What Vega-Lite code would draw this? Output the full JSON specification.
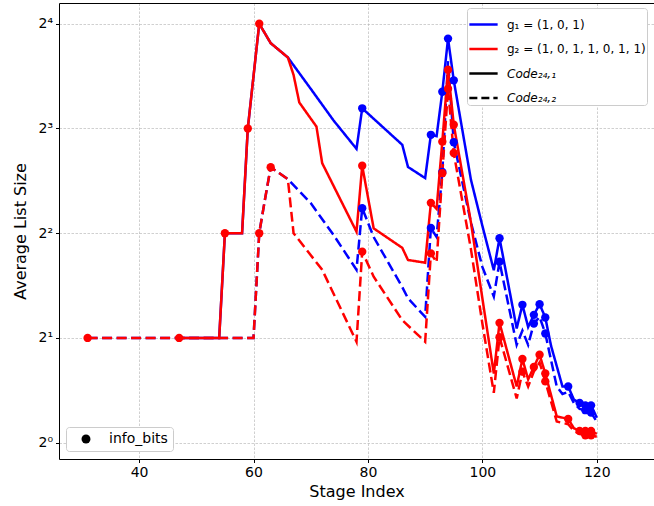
{
  "$schema": "https://vega.github.io/schema/vega-lite/v6.json",
  "width": 595,
  "height": 456,
  "autosize": {"type": "none"},
  "padding": {"left": 59, "top": 3, "right": 0, "bottom": 47},
  "background": "white",
  "config": {
    "view": {"stroke": null},
    "font": "DejaVu Sans",
    "axis": {"labelFont": "DejaVu Sans", "titleFont": "DejaVu Sans", "labelColor": "black", "titleColor": "black", "titleFontWeight": "normal", "domainColor": "black", "tickColor": "black"},
    "legend": {"labelFont": "DejaVu Sans", "labelColor": "black"}
  },
  "datasets": {
    "lines": [
      {"g":"g1","c":"c1","x":47,"y":2},{"g":"g1","c":"c1","x":54,"y":2},{"g":"g1","c":"c1","x":55,"y":4},{"g":"g1","c":"c1","x":58,"y":4},{"g":"g1","c":"c1","x":59,"y":8},{"g":"g1","c":"c1","x":61,"y":16},{"g":"g1","c":"c1","x":63,"y":14.07},{"g":"g1","c":"c1","x":66,"y":12.8},{"g":"g1","c":"c1","x":70,"y":10.4},{"g":"g1","c":"c1","x":74,"y":8.43},{"g":"g1","c":"c1","x":78,"y":6.99},{"g":"g1","c":"c1","x":79,"y":9.14},{"g":"g1","c":"c1","x":86,"y":7.18},{"g":"g1","c":"c1","x":87,"y":6.2},{"g":"g1","c":"c1","x":90,"y":5.76},{"g":"g1","c":"c1","x":91,"y":7.67},{"g":"g1","c":"c1","x":92,"y":7.6},{"g":"g1","c":"c1","x":93,"y":10.2},{"g":"g1","c":"c1","x":94,"y":14.5},{"g":"g1","c":"c1","x":95,"y":11.0},{"g":"g1","c":"c1","x":98,"y":5.7},{"g":"g1","c":"c1","x":100,"y":4.2},{"g":"g1","c":"c1","x":102,"y":3.13},{"g":"g1","c":"c1","x":103,"y":3.87},{"g":"g1","c":"c1","x":106,"y":2.13},{"g":"g1","c":"c1","x":107,"y":2.49},{"g":"g1","c":"c1","x":108,"y":2.15},{"g":"g1","c":"c1","x":109,"y":2.33},{"g":"g1","c":"c1","x":110,"y":2.5},{"g":"g1","c":"c1","x":111,"y":2.29},{"g":"g1","c":"c1","x":112,"y":1.9},{"g":"g1","c":"c1","x":114,"y":1.45},{"g":"g1","c":"c1","x":115,"y":1.45},{"g":"g1","c":"c1","x":116,"y":1.33},{"g":"g1","c":"c1","x":117,"y":1.3},{"g":"g1","c":"c1","x":118,"y":1.28},{"g":"g1","c":"c1","x":119,"y":1.28},{"g":"g1","c":"c1","x":120,"y":1.18},
      {"g":"g1","c":"c2","x":31,"y":2},{"g":"g1","c":"c2","x":47,"y":2},{"g":"g1","c":"c2","x":60,"y":2},{"g":"g1","c":"c2","x":61,"y":4},{"g":"g1","c":"c2","x":62,"y":5},{"g":"g1","c":"c2","x":63,"y":6.19},{"g":"g1","c":"c2","x":66,"y":5.72},{"g":"g1","c":"c2","x":70,"y":4.88},{"g":"g1","c":"c2","x":74,"y":3.95},{"g":"g1","c":"c2","x":78,"y":3.14},{"g":"g1","c":"c2","x":79,"y":4.72},{"g":"g1","c":"c2","x":81,"y":3.9},{"g":"g1","c":"c2","x":86,"y":2.8},{"g":"g1","c":"c2","x":87,"y":2.6},{"g":"g1","c":"c2","x":90,"y":2.3},{"g":"g1","c":"c2","x":91,"y":4.14},{"g":"g1","c":"c2","x":92,"y":3.9},{"g":"g1","c":"c2","x":93,"y":6.0},{"g":"g1","c":"c2","x":94,"y":12.5},{"g":"g1","c":"c2","x":95,"y":7.3},{"g":"g1","c":"c2","x":98,"y":4.3},{"g":"g1","c":"c2","x":100,"y":3.2},{"g":"g1","c":"c2","x":102,"y":2.63},{"g":"g1","c":"c2","x":103,"y":3.31},{"g":"g1","c":"c2","x":106,"y":1.91},{"g":"g1","c":"c2","x":107,"y":2.1},{"g":"g1","c":"c2","x":108,"y":1.91},{"g":"g1","c":"c2","x":109,"y":2.2},{"g":"g1","c":"c2","x":110,"y":2.3},{"g":"g1","c":"c2","x":111,"y":2.06},{"g":"g1","c":"c2","x":113,"y":1.45},{"g":"g1","c":"c2","x":114,"y":1.38},{"g":"g1","c":"c2","x":115,"y":1.4},{"g":"g1","c":"c2","x":116,"y":1.3},{"g":"g1","c":"c2","x":117,"y":1.25},{"g":"g1","c":"c2","x":118,"y":1.24},{"g":"g1","c":"c2","x":119,"y":1.22},{"g":"g1","c":"c2","x":120,"y":1.15},
      {"g":"g2","c":"c1","x":47,"y":2},{"g":"g2","c":"c1","x":54,"y":2},{"g":"g2","c":"c1","x":55,"y":4},{"g":"g2","c":"c1","x":58,"y":4},{"g":"g2","c":"c1","x":59,"y":8},{"g":"g2","c":"c1","x":61,"y":16},{"g":"g2","c":"c1","x":63,"y":14.07},{"g":"g2","c":"c1","x":66,"y":12.8},{"g":"g2","c":"c1","x":67,"y":11.4},{"g":"g2","c":"c1","x":68,"y":9.5},{"g":"g2","c":"c1","x":71,"y":8.1},{"g":"g2","c":"c1","x":72,"y":6.36},{"g":"g2","c":"c1","x":78,"y":4.04},{"g":"g2","c":"c1","x":79,"y":6.25},{"g":"g2","c":"c1","x":81,"y":4.13},{"g":"g2","c":"c1","x":86,"y":3.63},{"g":"g2","c":"c1","x":87,"y":3.35},{"g":"g2","c":"c1","x":90,"y":3.29},{"g":"g2","c":"c1","x":91,"y":4.89},{"g":"g2","c":"c1","x":92,"y":4.7},{"g":"g2","c":"c1","x":93,"y":7.33},{"g":"g2","c":"c1","x":94,"y":11.8},{"g":"g2","c":"c1","x":95,"y":8.2},{"g":"g2","c":"c1","x":98,"y":4.3},{"g":"g2","c":"c1","x":100,"y":2.6},{"g":"g2","c":"c1","x":102,"y":1.58},{"g":"g2","c":"c1","x":103,"y":2.21},{"g":"g2","c":"c1","x":106,"y":1.45},{"g":"g2","c":"c1","x":107,"y":1.74},{"g":"g2","c":"c1","x":108,"y":1.52},{"g":"g2","c":"c1","x":109,"y":1.65},{"g":"g2","c":"c1","x":110,"y":1.79},{"g":"g2","c":"c1","x":111,"y":1.58},{"g":"g2","c":"c1","x":113,"y":1.19},{"g":"g2","c":"c1","x":115,"y":1.17},{"g":"g2","c":"c1","x":116,"y":1.1},{"g":"g2","c":"c1","x":117,"y":1.08},{"g":"g2","c":"c1","x":118,"y":1.08},{"g":"g2","c":"c1","x":119,"y":1.08},{"g":"g2","c":"c1","x":120,"y":1.06},
      {"g":"g2","c":"c2","x":31,"y":2},{"g":"g2","c":"c2","x":47,"y":2},{"g":"g2","c":"c2","x":60,"y":2},{"g":"g2","c":"c2","x":61,"y":4},{"g":"g2","c":"c2","x":62,"y":5},{"g":"g2","c":"c2","x":63,"y":6.19},{"g":"g2","c":"c2","x":66,"y":5.72},{"g":"g2","c":"c2","x":67,"y":4.0},{"g":"g2","c":"c2","x":72,"y":3.14},{"g":"g2","c":"c2","x":78,"y":1.95},{"g":"g2","c":"c2","x":79,"y":3.54},{"g":"g2","c":"c2","x":81,"y":3.0},{"g":"g2","c":"c2","x":86,"y":2.25},{"g":"g2","c":"c2","x":90,"y":1.95},{"g":"g2","c":"c2","x":91,"y":3.5},{"g":"g2","c":"c2","x":92,"y":3.3},{"g":"g2","c":"c2","x":93,"y":5.95},{"g":"g2","c":"c2","x":94,"y":10.4},{"g":"g2","c":"c2","x":95,"y":6.8},{"g":"g2","c":"c2","x":98,"y":3.6},{"g":"g2","c":"c2","x":100,"y":2.2},{"g":"g2","c":"c2","x":102,"y":1.39},{"g":"g2","c":"c2","x":103,"y":2.01},{"g":"g2","c":"c2","x":106,"y":1.34},{"g":"g2","c":"c2","x":107,"y":1.6},{"g":"g2","c":"c2","x":108,"y":1.45},{"g":"g2","c":"c2","x":109,"y":1.6},{"g":"g2","c":"c2","x":110,"y":1.7},{"g":"g2","c":"c2","x":111,"y":1.5},{"g":"g2","c":"c2","x":113,"y":1.15},{"g":"g2","c":"c2","x":115,"y":1.13},{"g":"g2","c":"c2","x":116,"y":1.08},{"g":"g2","c":"c2","x":117,"y":1.06},{"g":"g2","c":"c2","x":118,"y":1.05},{"g":"g2","c":"c2","x":119,"y":1.05},{"g":"g2","c":"c2","x":120,"y":1.04}
    ],
    "dots": [
      {"g":"g1","x":79,"y":9.14},{"g":"g1","x":91,"y":7.67},{"g":"g1","x":93,"y":10.2},{"g":"g1","x":94,"y":14.5},{"g":"g1","x":95,"y":11.0},{"g":"g1","x":79,"y":4.72},{"g":"g1","x":91,"y":4.14},{"g":"g1","x":93,"y":6.0},{"g":"g1","x":95,"y":7.3},{"g":"g1","x":103,"y":3.87},{"g":"g1","x":103,"y":3.31},{"g":"g1","x":107,"y":2.49},{"g":"g1","x":109,"y":2.33},{"g":"g1","x":110,"y":2.5},{"g":"g1","x":111,"y":2.29},{"g":"g1","x":109,"y":2.2},{"g":"g1","x":111,"y":2.06},{"g":"g1","x":115,"y":1.45},{"g":"g1","x":117,"y":1.3},{"g":"g1","x":118,"y":1.28},{"g":"g1","x":119,"y":1.28},{"g":"g1","x":118,"y":1.24},{"g":"g1","x":119,"y":1.22},
      {"g":"g2","x":31,"y":2},{"g":"g2","x":47,"y":2},{"g":"g2","x":55,"y":4},{"g":"g2","x":59,"y":8},{"g":"g2","x":61,"y":16},{"g":"g2","x":61,"y":4},{"g":"g2","x":63,"y":6.19},{"g":"g2","x":79,"y":6.25},{"g":"g2","x":79,"y":3.54},{"g":"g2","x":91,"y":4.89},{"g":"g2","x":91,"y":3.5},{"g":"g2","x":93,"y":7.33},{"g":"g2","x":93,"y":5.95},{"g":"g2","x":94,"y":11.8},{"g":"g2","x":94,"y":10.4},{"g":"g2","x":95,"y":8.2},{"g":"g2","x":95,"y":6.8},{"g":"g2","x":103,"y":2.21},{"g":"g2","x":103,"y":2.01},{"g":"g2","x":107,"y":1.74},{"g":"g2","x":107,"y":1.6},{"g":"g2","x":109,"y":1.65},{"g":"g2","x":110,"y":1.79},{"g":"g2","x":111,"y":1.58},{"g":"g2","x":111,"y":1.5},{"g":"g2","x":115,"y":1.17},{"g":"g2","x":117,"y":1.08},{"g":"g2","x":118,"y":1.08},{"g":"g2","x":119,"y":1.08},{"g":"g2","x":118,"y":1.05},{"g":"g2","x":119,"y":1.05}
    ],
    "legendkeys": [
      {"key":"g₁ = (1, 0, 1)","x":50,"y":2},
      {"key":"g₂ = (1, 0, 1, 1, 0, 1, 1)","x":50,"y":2},
      {"key":"Code₂₄,₁","x":50,"y":2},
      {"key":"Code₂₄,₂","x":50,"y":2}
    ],
    "infokey": [{"kind":"info_bits","x":0,"y":2}]
  },
  "resolve": {"scale": {"color": "independent", "strokeDash": "independent"}, "axis": {"x": "independent"}},
  "layer": [
    {
      "data": {"name": "lines"},
      "mark": {"type": "line", "strokeWidth": 2.5, "clip": true},
      "encoding": {
        "x": {"field": "x", "type": "quantitative", "scale": {"domain": [26, 130], "nice": false, "zero": false},
          "axis": {"values": [40, 60, 80, 100, 120], "title": "Stage Index", "titleFontSize": 16, "labelFontSize": 14, "tickSize": 3.5, "labelPadding": 3, "titlePadding": 4, "grid": true, "gridColor": "#b0b0b0", "gridDash": [2.5, 1.5], "gridWidth": 0.6, "domainWidth": 1.2}},
        "y": {"field": "y", "type": "quantitative", "scale": {"type": "log", "base": 2, "domain": [0.8976, 18.35], "nice": false},
          "axis": {"values": [1, 2, 4, 8, 16], "labelExpr": "datum.value == 1 ? '2⁰' : datum.value == 2 ? '2¹' : datum.value == 4 ? '2²' : datum.value == 8 ? '2³' : '2⁴'", "title": "Average List Size", "titleFontSize": 16, "labelFontSize": 14, "tickSize": 3.5, "labelPadding": 3, "titlePadding": 9, "grid": true, "gridColor": "#b0b0b0", "gridDash": [2.5, 1.5], "gridWidth": 0.6}},
        "color": {"field": "g", "type": "nominal", "scale": {"domain": ["g1", "g2"], "range": ["#0000ff", "#ff0000"]}, "legend": null},
        "strokeDash": {"field": "c", "type": "nominal", "scale": {"domain": ["c1", "c2"], "range": [[1, 0], [10, 4.5]]}, "legend": null},
        "detail": {"field": "c"}
      }
    },
    {
      "data": {"name": "dots"},
      "mark": {"type": "point", "filled": true, "size": 70, "opacity": 1, "clip": true},
      "encoding": {
        "x": {"field": "x", "type": "quantitative", "axis": null},
        "y": {"field": "y", "type": "quantitative"},
        "color": {"field": "g", "type": "nominal", "scale": {"domain": ["g1", "g2"], "range": ["#0000ff", "#ff0000"]}, "legend": null}
      }
    },
    {
      "data": {"name": "legendkeys"},
      "mark": {"type": "line", "strokeWidth": 2.5, "clip": true},
      "encoding": {
        "x": {"field": "x", "type": "quantitative", "axis": {"orient": "top", "labels": false, "ticks": false, "grid": false, "title": null, "domainColor": "black", "domainWidth": 1}},
        "y": {"field": "y", "type": "quantitative"},
        "color": {"field": "key", "type": "nominal", "sort": null,
          "scale": {"domain": ["g₁ = (1, 0, 1)", "g₂ = (1, 0, 1, 1, 0, 1, 1)", "Code₂₄,₁", "Code₂₄,₂"], "range": ["#0000ff", "#ff0000", "black", "black"]},
          "legend": {"title": null, "orient": "none", "legendX": 408, "legendY": 5, "fillColor": "white", "strokeColor": "#cccccc", "cornerRadius": 3, "padding": 1, "symbolType": "stroke", "symbolSize": 800, "symbolStrokeWidth": 2.5, "labelFontSize": 12, "rowPadding": 2.5, "labelOffset": 8, "labelLimit": 300,
            "encode": {"labels": {"update": {"fontStyle": {"signal": "indexof(datum.label, 'Code') >= 0 ? 'italic' : 'normal'"}}}}}},
        "strokeDash": {"field": "key", "type": "nominal", "sort": null,
          "scale": {"domain": ["g₁ = (1, 0, 1)", "g₂ = (1, 0, 1, 1, 0, 1, 1)", "Code₂₄,₁", "Code₂₄,₂"], "range": [[1, 0], [1, 0], [1, 0], [8, 4]]}}
      }
    },
    {
      "data": {"name": "infokey"},
      "mark": {"type": "point", "filled": true, "size": 70, "opacity": 1, "clip": true},
      "encoding": {
        "x": {"field": "x", "type": "quantitative", "axis": null},
        "y": {"field": "y", "type": "quantitative"},
        "color": {"field": "kind", "type": "nominal", "scale": {"domain": ["info_bits"], "range": ["black"]},
          "legend": {"title": null, "orient": "none", "legendX": 7, "legendY": 424, "fillColor": "white", "strokeColor": "#cccccc", "cornerRadius": 3, "padding": 5, "symbolType": "circle", "symbolSize": 80, "symbolOpacity": 1, "symbolFillColor": "black", "labelFontSize": 14, "labelOffset": 16, "symbolOffset": 8}}
      }
    }
  ]
}
